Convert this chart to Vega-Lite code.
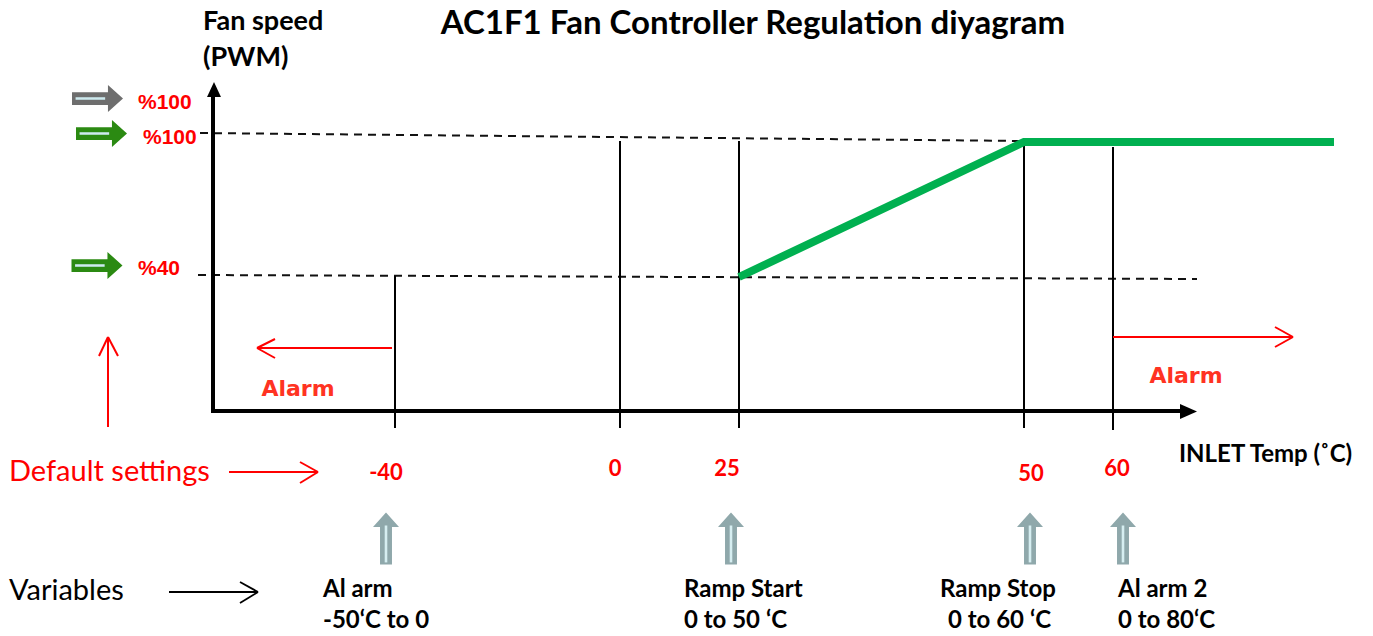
{
  "$schema": "https://vega.github.io/schema/vega-lite/v6.json",
  "width": 1373,
  "height": 636,
  "padding": 0,
  "autosize": {"type": "fit", "contains": "padding"},
  "background": "white",
  "config": {"view": {"stroke": null}},
  "datasets": {
    "axes": [
      {"x": 213, "y": 413, "x2": 213, "y2": 95},
      {"x": 211, "y": 411, "x2": 1182, "y2": 411}
    ],
    "yhead": [{"x": 214, "y": 89.5}],
    "xhead": [{"x": 1188.5, "y": 411.5}],
    "verticals": [
      {"x": 395, "y": 276, "x2": 395, "y2": 428},
      {"x": 620, "y": 141, "x2": 620, "y2": 428},
      {"x": 739, "y": 141, "x2": 739, "y2": 428},
      {"x": 1024, "y": 140, "x2": 1024, "y2": 428},
      {"x": 1113, "y": 147, "x2": 1113, "y2": 430}
    ],
    "dashed": [
      {"x": 200, "y": 133, "x2": 1024, "y2": 141},
      {"x": 198, "y": 275, "x2": 1197, "y2": 279}
    ],
    "curve": [
      {"x": 739, "y": 277},
      {"x": 1024, "y": 142},
      {"x": 1334, "y": 142}
    ],
    "redarrows": [
      {"x": 392, "y": 348, "x2": 257, "y2": 348},
      {"x": 257, "y": 348, "x2": 275, "y2": 339},
      {"x": 257, "y": 348, "x2": 275, "y2": 358},
      {"x": 1113, "y": 337, "x2": 1293, "y2": 337},
      {"x": 1293, "y": 337, "x2": 1275, "y2": 327},
      {"x": 1293, "y": 337, "x2": 1275, "y2": 347},
      {"x": 108, "y": 427, "x2": 108, "y2": 337},
      {"x": 108, "y": 337, "x2": 99, "y2": 356},
      {"x": 108, "y": 337, "x2": 118, "y2": 356},
      {"x": 229, "y": 472, "x2": 318, "y2": 472},
      {"x": 318, "y": 472, "x2": 300, "y2": 462},
      {"x": 318, "y": 472, "x2": 300, "y2": 483}
    ],
    "blackarrow": [
      {"x": 169, "y": 592, "x2": 258, "y2": 592},
      {"x": 258, "y": 592, "x2": 240, "y2": 582},
      {"x": 258, "y": 592, "x2": 240, "y2": 603}
    ],
    "uparrows": [
      {"x": 386, "y": 538.5},
      {"x": 731, "y": 538.5},
      {"x": 1030, "y": 538.5},
      {"x": 1123, "y": 538.5}
    ],
    "grayright": [{"x": 97.5, "y": 98.5}],
    "greenright": [{"x": 101.5, "y": 133.5}, {"x": 97, "y": 265.5}],
    "title": [{"x": 753, "y": 34, "t": "AC1F1 Fan Controller Regulation diyagram"}],
    "ytitle": [
      {"x": 203, "y": 30, "t": "Fan speed"},
      {"x": 203, "y": 66, "t": "(PWM)"}
    ],
    "xtitle": [{"x": 1179, "y": 462, "t": "INLET Temp (˚C)"}],
    "pct": [
      {"x": 138, "y": 109, "t": "%100"},
      {"x": 143, "y": 144, "t": "%100"},
      {"x": 138, "y": 275, "t": "%40"}
    ],
    "alarm": [
      {"x": 298, "y": 396, "t": "Alarm"},
      {"x": 1186, "y": 383, "t": "Alarm"}
    ],
    "nums": [
      {"x": 386, "y": 480, "t": "-40"},
      {"x": 615, "y": 476, "t": "0"},
      {"x": 727, "y": 476, "t": "25"},
      {"x": 1031, "y": 481, "t": "50"},
      {"x": 1117, "y": 476, "t": "60"}
    ],
    "defaults": [{"x": 9, "y": 481, "t": "Default settings"}],
    "variables": [{"x": 9, "y": 600, "t": "Variables"}],
    "varlabels": [
      {"x": 323, "y": 597, "t": "Al arm"},
      {"x": 323, "y": 628, "t": "-50‘C  to 0"},
      {"x": 684, "y": 597, "t": "Ramp Start"},
      {"x": 684, "y": 628, "t": "0 to 50 ‘C"},
      {"x": 940, "y": 597, "t": "Ramp Stop"},
      {"x": 948, "y": 628, "t": "0 to 60 ‘C"},
      {"x": 1118, "y": 597, "t": "Al arm 2"},
      {"x": 1118, "y": 628, "t": "0 to 80‘C"}
    ]
  },
  "encoding": {
    "x": {"field": "x", "type": "quantitative", "axis": null, "scale": {"domain": [0, 1373], "nice": false, "zero": false}},
    "y": {"field": "y", "type": "quantitative", "axis": null, "scale": {"domain": [0, 636], "nice": false, "zero": false, "reverse": true}}
  },
  "layer": [
    {"data": {"name": "dashed"}, "mark": {"type": "rule", "color": "#111111", "strokeWidth": 2, "strokeDash": [8, 6]}, "encoding": {"x2": {"field": "x2"}, "y2": {"field": "y2"}}},
    {"data": {"name": "verticals"}, "mark": {"type": "rule", "color": "#000000", "strokeWidth": 2}, "encoding": {"x2": {"field": "x2"}, "y2": {"field": "y2"}}},
    {"data": {"name": "axes"}, "mark": {"type": "rule", "color": "#000000", "strokeWidth": 4}, "encoding": {"x2": {"field": "x2"}, "y2": {"field": "y2"}}},
    {"data": {"name": "yhead"}, "mark": {"type": "point", "shape": "M0,-1L0.93,1L-0.93,1Z", "size": 225, "filled": true, "color": "#000000", "opacity": 1, "strokeWidth": 0}},
    {"data": {"name": "xhead"}, "mark": {"type": "point", "shape": "M1,0L-1,0.88L-1,-0.88Z", "size": 289, "filled": true, "color": "#000000", "opacity": 1, "strokeWidth": 0}},
    {"data": {"name": "curve"}, "mark": {"type": "line", "color": "#00b050", "strokeWidth": 8, "strokeJoin": "miter"}},
    {"data": {"name": "redarrows"}, "mark": {"type": "rule", "color": "#ff0000", "strokeWidth": 2}, "encoding": {"x2": {"field": "x2"}, "y2": {"field": "y2"}}},
    {"data": {"name": "blackarrow"}, "mark": {"type": "rule", "color": "#000000", "strokeWidth": 1.8}, "encoding": {"x2": {"field": "x2"}, "y2": {"field": "y2"}}},
    {"data": {"name": "uparrows"}, "mark": {"type": "point", "shape": "M0,-1L0.5,-0.44L0.23,-0.44L0.23,1L-0.23,1L-0.23,-0.44L-0.5,-0.44Z", "size": 2704, "filled": true, "color": "#8fa8ab", "opacity": 1, "strokeWidth": 0}},
    {"data": {"name": "uparrows"}, "mark": {"type": "point", "shape": "M-0.05,-0.5L0.05,-0.5L0.05,0.92L-0.05,0.92Z", "size": 2704, "filled": true, "color": "#d6eef1", "opacity": 1, "strokeWidth": 0}},
    {"data": {"name": "grayright"}, "mark": {"type": "point", "shape": "M1,0L0.41,-0.53L0.41,-0.25L-1,-0.25L-1,0.25L0.41,0.25L0.41,0.53Z", "size": 2601, "filled": true, "color": "#6e6e6e", "opacity": 1, "strokeWidth": 0}},
    {"data": {"name": "greenright"}, "mark": {"type": "point", "shape": "M1,0L0.41,-0.53L0.41,-0.25L-1,-0.25L-1,0.25L0.41,0.25L0.41,0.53Z", "size": 2601, "filled": true, "color": "#2b8a12", "opacity": 1, "strokeWidth": 0}},
    {"data": {"name": "grayright"}, "mark": {"type": "point", "shape": "M-0.86,-0.05L0.3,-0.05L0.3,0.05L-0.86,0.05Z", "size": 2601, "filled": true, "color": "#cdeaee", "opacity": 1, "strokeWidth": 0}},
    {"data": {"name": "greenright"}, "mark": {"type": "point", "shape": "M-0.86,-0.05L0.3,-0.05L0.3,0.05L-0.86,0.05Z", "size": 2601, "filled": true, "color": "#cdeaee", "opacity": 1, "strokeWidth": 0}},
    {"data": {"name": "title"}, "mark": {"type": "text", "font": "Lato", "fontWeight": "bold", "fontSize": 33, "align": "center", "baseline": "alphabetic", "color": "#000000"}, "encoding": {"text": {"field": "t"}}},
    {"data": {"name": "ytitle"}, "mark": {"type": "text", "font": "Lato", "fontWeight": "bold", "fontSize": 27, "align": "left", "baseline": "alphabetic", "color": "#000000"}, "encoding": {"text": {"field": "t"}}},
    {"data": {"name": "xtitle"}, "mark": {"type": "text", "font": "Lato", "fontWeight": "bold", "fontSize": 24, "align": "left", "baseline": "alphabetic", "color": "#000000"}, "encoding": {"text": {"field": "t"}}},
    {"data": {"name": "pct"}, "mark": {"type": "text", "font": "Liberation Sans", "fontWeight": "bold", "fontSize": 21, "align": "left", "baseline": "alphabetic", "color": "#ff0000"}, "encoding": {"text": {"field": "t"}}},
    {"data": {"name": "alarm"}, "mark": {"type": "text", "font": "DejaVu Sans", "fontWeight": "bold", "fontSize": 22, "align": "center", "baseline": "alphabetic", "color": "#ff3322"}, "encoding": {"text": {"field": "t"}}},
    {"data": {"name": "nums"}, "mark": {"type": "text", "font": "Lato", "fontWeight": "bold", "fontSize": 22, "align": "center", "baseline": "alphabetic", "color": "#ff0000"}, "encoding": {"text": {"field": "t"}}},
    {"data": {"name": "defaults"}, "mark": {"type": "text", "font": "Lato", "fontSize": 29, "align": "left", "baseline": "alphabetic", "color": "#ff0000"}, "encoding": {"text": {"field": "t"}}},
    {"data": {"name": "variables"}, "mark": {"type": "text", "font": "Lato", "fontSize": 29, "align": "left", "baseline": "alphabetic", "color": "#000000"}, "encoding": {"text": {"field": "t"}}},
    {"data": {"name": "varlabels"}, "mark": {"type": "text", "font": "Lato", "fontWeight": "bold", "fontSize": 24, "align": "left", "baseline": "alphabetic", "color": "#000000"}, "encoding": {"text": {"field": "t"}}}
  ]
}
